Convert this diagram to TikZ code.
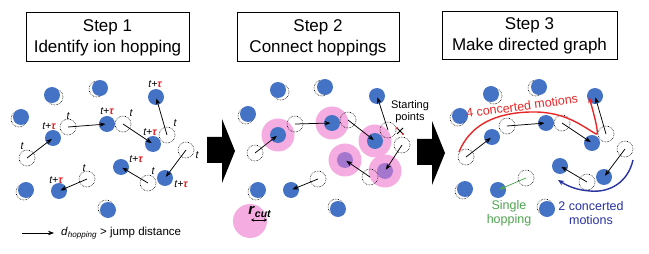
\documentclass[tikz,border=0pt]{standalone}
\usepackage{fontspec}
\setmainfont{Liberation Sans}
\usetikzlibrary{arrows.meta}
\definecolor{atomblue}{RGB}{68,114,196}
\definecolor{cutpink}{RGB}{245,172,224}
\definecolor{atompurple}{RGB}{165,118,205}
\definecolor{taured}{RGB}{228,30,36}
\definecolor{motionred}{RGB}{232,40,40}
\definecolor{motionblue}{RGB}{40,50,160}
\definecolor{hopgreen}{RGB}{80,165,80}
\tikzset{
  atom/.style={circle, fill=atomblue, inner sep=0pt, minimum size=16pt},
  patom/.style={circle, fill=atompurple, inner sep=0pt, minimum size=16pt},
  ghost/.style={circle, draw=black, densely dotted, line width=0.6pt, inner sep=0pt, minimum size=16pt},
  hoparrow/.style={-{Stealth[length=6pt,width=4.5pt]}, line width=0.75pt, shorten >=1.5pt},
  titlebox/.style={draw, line width=1pt, align=center, font=\fontsize{17}{21}\selectfont, inner sep=0pt},
  tlab/.style={font=\fontsize{10.5}{12}\selectfont\itshape, inner sep=0pt},
  cutzone/.style={circle, fill=cutpink, inner sep=0pt, minimum size=33pt},
  bigarrow/.style={fill=black},
  note/.style={font=\fontsize{12.5}{14}\selectfont, align=center, inner sep=0pt},
}
\newcommand\tpt{t+\textcolor{taured}{\textbf{τ}}}
% common layout of panels 1 and 3
\newcommand\layoutone{%
  \node[ghost] (s1g) at (55,97) {};   \node[atom] (s1) at (52,95) {};
  \node[ghost] (s2g) at (97,89) {};   \node[atom] (s2) at (100,88) {};
  \node[ghost] (s3g) at (19,119) {};  \node[atom] (s3) at (21,117) {};
  \node[ghost] (s4g) at (24,192) {};  \node[atom] (s4) at (26,190) {};
  \node[ghost] (s5g) at (106,208) {}; \node[atom] (s5) at (108,210) {};
  \node[ghost] (h1g) at (68,127) {};  \node[atom] (h1) at (107,124) {};
  \node[ghost] (h2g) at (123,124) {}; \node[atom] (h2) at (153,144) {};
  \node[ghost] (h3g) at (27,158) {};  \node[atom] (h3) at (53,138) {};
  \node[ghost] (h4g) at (167,135) {}; \node[atom] (h4) at (156,97) {};
  \node[ghost] (h5g) at (186,150) {}; \node[atom] (h5) at (165,178) {};
  \node[ghost] (h6g) at (148,183) {}; \node[atom] (h6) at (121,167) {};
  \node[ghost] (h7g) at (87,179) {};  \node[atom] (h7) at (59,191) {};
}
\begin{document}
\begin{tikzpicture}[x=1pt,y=-1pt]
\useasboundingbox[fill=white] (0,0) rectangle (649,254);

% ---------------- titles
\node[titlebox, minimum width=163pt, minimum height=49pt] (t1) at (107.5,37.5) {Step 1\\Identify ion hopping};
\node[titlebox, minimum width=162pt, minimum height=49pt] (t2) at (318,37.5) {Step 2\\Connect hoppings};
\node[titlebox, minimum width=175pt, minimum height=48pt] (t3) at (529.5,36) {Step 3\\Make directed graph};

% ---------------- big arrows
\fill[bigarrow] (207,137) -- (222,137) -- (222,119) -- (235,151) -- (222,183) -- (222,163) -- (207,163) -- cycle;
\fill[bigarrow] (417,139) -- (432,139) -- (432,121) -- (445,153) -- (432,185) -- (432,165) -- (417,165) -- cycle;

% ---------------- panel 1
\begin{scope}[name prefix=p1-]
  \layoutone
  \foreach \i in {1,...,7} {\draw[hoparrow] (h\i g.center) -- (h\i.center);}
  \node[tlab] (l1a) at (68,116) {t};   \node[tlab] (l1b) at (107,111) {\tpt};
  \node[tlab] (l2a) at (131,113) {t};  \node[tlab] (l2b) at (150,132) {\tpt};
  \node[tlab] (l3a) at (22,146) {t};   \node[tlab] (l3b) at (49,126) {\tpt};
  \node[tlab] (l4a) at (175,123) {t};  \node[tlab] (l4b) at (155,84) {\tpt};
  \node[tlab] (l5a) at (197,155) {t};  \node[tlab] (l5b) at (181,184) {\tpt};
  \node[tlab] (l6a) at (153,171) {t};  \node[tlab] (l6b) at (136,159) {\tpt};
  \node[tlab] (l7a) at (84,168) {t};   \node[tlab] (l7b) at (56,180) {\tpt};
  \coordinate (legA) at (22,233);
  \coordinate (legB) at (54,233);
  \draw[hoparrow, shorten >=0pt] (legA) -- (legB);
  \node[anchor=west, inner sep=0pt, font=\fontsize{11.5}{13}\selectfont] (legtext) at (61,233)
     {\textit{d}\textsubscript{\textit{hopping}} > jump distance};
\end{scope}

% ---------------- panel 2
\begin{scope}[name prefix=p2-]
  \node[cutzone] (c1) at (332,123) {};
  \node[cutzone] (c2) at (375,141) {};
  \node[cutzone] (c3) at (278,135) {};
  \node[cutzone] (c5) at (385,171) {};
  \node[cutzone] (c6) at (345,160) {};
  \node[ghost] (s1g) at (281,92) {};  \node[atom] (s1) at (278,90) {};
  \node[ghost] (s2g) at (322,88) {};  \node[atom] (s2) at (325,87) {};
  \node[ghost] (s3g) at (246,116) {}; \node[atom] (s3) at (248,114) {};
  \node[ghost] (s4g) at (256,192) {}; \node[atom] (s4) at (258,190) {};
  \node[ghost] (s5g) at (336,207) {}; \node[atom] (s5) at (338,209) {};
  \node[ghost] (h1g) at (295,124) {}; \node[atom] (h1) at (332,123) {};
  \node[ghost] (h2g) at (348,120) {}; \node[atom] (h2) at (375,141) {};
  \node[ghost] (h3g) at (255,153) {}; \node[atom] (h3) at (278,135) {};
  \node[ghost] (h4g) at (388,130) {}; \node[atom] (h4) at (377,96) {};
  \node[ghost] (h5g) at (402,145) {}; \node[patom] (h5) at (385,171) {};
  \node[ghost] (h6g) at (370,177) {}; \node[patom] (h6) at (345,160) {};
  \node[ghost] (h7g) at (318,179) {}; \node[atom] (h7) at (291,190) {};
  \foreach \i in {1,...,7} {\draw[hoparrow] (h\i g.center) -- (h\i.center);}
  \node[font=\fontsize{11}{12}\selectfont, align=center, inner sep=0pt] (sp) at (410,112) {Starting\\points};
  \coordinate (mk) at (400,131);
  \draw[line width=0.9pt] ([shift={(-3,-3)}]mk) -- ([shift={(3,3)}]mk) ([shift={(-3,3)}]mk) -- ([shift={(3,-3)}]mk);
  \fill[taured] ([shift={(-3,-3)}]mk) circle (1.1pt) ([shift={(3,3)}]mk) circle (1.1pt);
  % r_cut legend
  \node[cutzone, minimum size=34pt] (cut) at (250,221) {};
  \node[inner sep=0pt, font=\fontsize{15}{16}\selectfont] (rcut) at (260,212) {\textbf{\textit{r}}\textsubscript{\textbf{\textit{cut}}}};
  \coordinate (rcA) at (251,220);
  \coordinate (rcB) at (267,220);
  \draw[{Stealth[length=3pt,width=3pt]}-{Stealth[length=3pt,width=3pt]}, line width=0.6pt] (rcA) -- (rcB);
\end{scope}

% ---------------- panel 3
\begin{scope}[shift={(439,-1)}, name prefix=p3-]
  \layoutone
  \foreach \i in {1,...,6} {\draw[hoparrow] (h\i g.center) -- (h\i.center);}
  \draw[hoparrow, hopgreen] (h7g.center) -- (h7.center);
\end{scope}
\coordinate (rs) at (459,152);
\coordinate (rm) at (530,112);
\coordinate (rb) at (596,134);
\coordinate (re) at (589,97);
\draw[motionred, line width=1.4pt, -{Stealth[length=6pt,width=5pt]}]
  (rs) .. controls (470,125) and (495,113) .. (rm)
       .. controls (565,111) and (582,126) .. (rb)
       .. controls (600,137) and (594,114) .. (re);
\node[note, text=motionred, rotate=7.6] (four) at (522,106) {4 concerted motions};
\coordinate (bs) at (633,160);
\coordinate (bm) at (590,191);
\coordinate (be) at (558,180);
\draw[motionblue, line width=1.4pt, -{Stealth[length=6pt,width=5pt]}]
  (bs) .. controls (628,182) and (610,193) .. (bm)
       .. controls (575,190) and (566,185) .. (be);
\node[note, text=motionblue] (two) at (591,213) {2 concerted\\motions};
\node[note, text=hopgreen] (single) at (509,213) {Single\\hopping};
\end{tikzpicture}
\end{document}
